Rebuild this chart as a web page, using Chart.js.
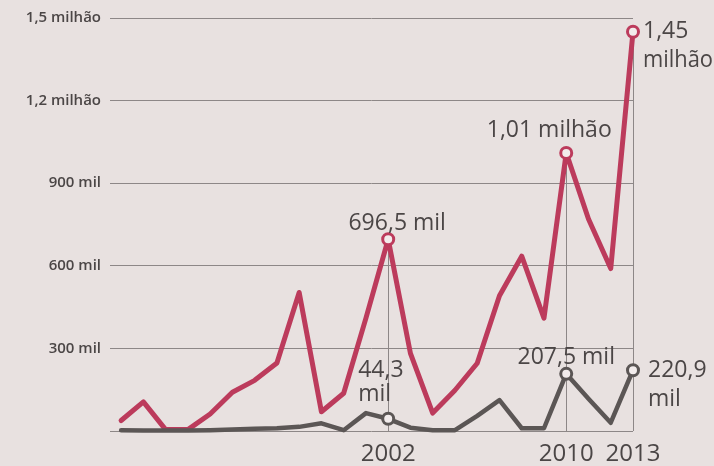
<!DOCTYPE html>
<html>
<head>
<meta charset="utf-8">
<script src="https://cdn.jsdelivr.net/npm/chart.js@4/dist/chart.umd.min.js"></script>
<style>
  html,body{margin:0;padding:0;background:#e8e1e0;}
  #wrap{width:714px;height:466px;}
</style>
</head>
<body>
<div id="wrap"><canvas id="chart" width="714" height="466"></canvas></div>
<script>
// values in thousands
const years = [1990,1991,1992,1993,1994,1995,1996,1997,1998,1999,2000,2001,
               2002,2003,2004,2005,2006,2007,2008,2009,2010,2011,2012,2013];
const redVals  = [38,106,5,5,62,141,184,247,503,70,137,410,
                  696.5,282,65,148,246,491,635,410,1010,770,590,1450];
const grayVals = [3,2,2,2,3,5,8,10,15,28,3,65,
                  44.3,12,3,3,55,112,10,10,207.5,117,30,220.9];
const yTicks  = [0,300,600,900,1200,1500];
const yLabels = ['','300 mil','600 mil','900 mil','1,2 milhão','1,5 milhão'];
const markYears = [2002,2010,2013];
const redNotes  = [['696,5 mil'],['1,01 milhão'],['1,45','milhão']];
const grayNotes = [['44,3','mil'],['207,5 mil'],['220,9','mil']];

const RED = '#bc3b5c', GRAY = '#5b5655', GRID = '#8d8787', TXT = '#4b4646', PAPER = '#f2ecec';
const FONT = '"Open Sans", "Noto Sans", sans-serif';

const isMark = c => markYears.includes(c.raw && c.raw.x);
const pts = vals => years.map((yr,i)=>({x:yr, y:vals[i]}));

// note placement relative to its point: dx, dy of first baseline, align, line step
const redPos  = [{dx:9,dy:-9,al:'center',lh:0},{dx:-17,dy:-16,al:'center',lh:0},{dx:10,dy:6,al:'left',lh:29}];
const grayPos = [{dx:-30,dy:-42,al:'left',lh:24},{dx:0,dy:-10,al:'center',lh:0},{dx:15,dy:7,al:'left',lh:29}];

const notes = {
  id:'notes',
  beforeDatasetsDraw(chart){
    const {ctx, scales:{x,y}} = chart;
    ctx.save();
    ctx.strokeStyle = GRID; ctx.lineWidth = 1;
    markYears.forEach(yr=>{
      const i = years.indexOf(yr);
      const px = Math.round(x.getPixelForValue(yr)) + .5;
      ctx.beginPath();
      ctx.moveTo(px, y.getPixelForValue(Math.max(redVals[i], grayVals[i])));
      ctx.lineTo(px, y.getPixelForValue(0));
      ctx.stroke();
    });
    ctx.restore();
  },
  afterDatasetsDraw(chart){
    const {ctx, scales:{x,y}} = chart;
    ctx.save();
    ctx.fillStyle = TXT;
    ctx.font = '23px ' + FONT;
    ctx.textBaseline = 'alphabetic';
    const put = (lines, pos, yr, v) => {
      const px = x.getPixelForValue(yr) + pos.dx, py = y.getPixelForValue(v) + pos.dy;
      ctx.textAlign = pos.al;
      lines.forEach((t,k)=>{
        // keep left-aligned notes inside the canvas edge
        if (pos.al === 'left') ctx.fillText(t, px, py + k*pos.lh, chart.width - px - 1);
        else ctx.fillText(t, px, py + k*pos.lh);
      });
    };
    markYears.forEach((yr,j)=>{
      const i = years.indexOf(yr);
      put(redNotes[j], redPos[j], yr, redVals[i]);
      put(grayNotes[j], grayPos[j], yr, grayVals[i]);
    });
    ctx.restore();
  }
};

const lineSet = (vals, color, width, order) => ({
  data: pts(vals), borderColor: color, borderWidth: width, order, clip: false,
  tension: 0, borderJoinStyle: 'round', borderCapStyle: 'round',
  pointRadius: c => isMark(c) ? 5.5 : 0,
  pointBorderWidth: 3, pointBorderColor: color, pointBackgroundColor: PAPER
});

new Chart(document.getElementById('chart'), {
  type: 'line',
  data: { datasets: [ lineSet(grayVals, GRAY, 4.5, 0), lineSet(redVals, RED, 5, 1) ] },
  options: {
    responsive: false, animation: false,
    layout: { padding: { top: 17, right: 81, left: 0, bottom: 0 } },
    plugins: { legend: { display: false }, tooltip: { enabled: false } },
    scales: {
      x: {
        type: 'linear', min: 1989.5, max: 2013,
        afterBuildTicks: s => { s.ticks = markYears.map(v=>({value:v})); },
        afterFit: s => { s.height = 35; },
        grid: { display: false, drawTicks: false }, border: { display: false },
        ticks: { padding: 9, color: TXT, font: { family: FONT, size: 24 }, callback: v => String(v) }
      },
      y: {
        min: 0, max: 1500,
        afterBuildTicks: s => { s.ticks = yTicks.map(v=>({value:v})); },
        afterFit: s => { s.width = 110; },
        grid: { color: GRID, lineWidth: 1, drawTicks: false }, border: { display: false },
        ticks: { padding: 9, color: TXT, font: { family: FONT, size: 15, weight: 600 },
                 callback: v => yLabels[yTicks.indexOf(v)] }
      }
    }
  },
  plugins: [notes]
});
</script>
</body>
</html>
